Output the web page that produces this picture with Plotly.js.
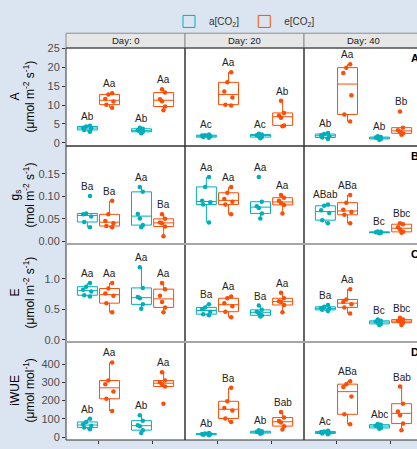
<!DOCTYPE html>
<html><head><meta charset="utf-8">
<script src="https://cdn.plot.ly/plotly-3.0.1.min.js"></script>
<style>html,body{margin:0;padding:0;overflow:hidden;background:#dbe5f1;} #chart{width:430px;height:470px;}</style>
</head><body><div id="chart"></div>
<script>
// Categories
const days = ['Day: 0', 'Day: 20', 'Day: 40'];
const water = ['WW', 'WD'];
const co2Names = ['a[CO<sub>2</sub>]', 'e[CO<sub>2</sub>]'];
const co2Colors = ['#00AFBB', '#FC4E07'];

// Each day: [WW a[CO2], WW e[CO2], WD a[CO2], WD e[CO2]]
const A_d0  = [[2.9,3.4,3.8,4.0,4.3,4.5],[9.3,10.1,10.9,11.6,12.8,13.1],[2.5,2.9,3.1,3.3,3.7,4.0],[8.6,9.6,11.0,11.5,13.3,14.2]];
const A_d20 = [[1.3,1.5,1.7,1.9,2.0,2.2],[9.9,10.1,12.0,13.6,16.0,18.7],[1.2,1.5,1.8,2.0,2.2,2.4],[4.4,4.6,6.6,7.2,7.9,11.1]];
const A_d40 = [[1.0,1.4,1.7,2.0,2.3,2.6],[5.6,7.5,12.6,18.5,19.9,20.8],[0.8,1.0,1.2,1.4,1.5,1.7],[2.1,2.5,3.0,3.3,4.0,8.3]];

const gs_d0  = [[0.031,0.043,0.055,0.060,0.062,0.101],[0.031,0.034,0.040,0.045,0.060,0.090],[0.031,0.036,0.051,0.061,0.110,0.121],[0.011,0.033,0.040,0.042,0.050,0.060]];
const gs_d20 = [[0.042,0.082,0.087,0.090,0.121,0.143],[0.060,0.082,0.088,0.094,0.108,0.121],[0.051,0.062,0.074,0.078,0.088,0.143],[0.062,0.081,0.085,0.090,0.097,0.103]];
const gs_d40 = [[0.040,0.047,0.063,0.069,0.079,0.082],[0.040,0.059,0.065,0.070,0.086,0.103],[0.018,0.019,0.020,0.020,0.021,0.022],[0.019,0.021,0.027,0.031,0.038,0.040]];

const E_d0  = [[0.71,0.73,0.79,0.82,0.87,0.93],[0.45,0.60,0.72,0.76,0.84,0.93],[0.51,0.58,0.68,0.70,0.85,1.19],[0.45,0.53,0.62,0.72,0.83,0.93]];
const E_d20 = [[0.40,0.42,0.46,0.50,0.53,0.58],[0.37,0.46,0.55,0.60,0.68,0.71],[0.38,0.40,0.44,0.46,0.49,0.56],[0.45,0.57,0.62,0.63,0.68,0.77]];
const E_d40 = [[0.47,0.49,0.51,0.52,0.54,0.57],[0.43,0.53,0.58,0.62,0.66,0.83],[0.24,0.26,0.28,0.30,0.31,0.33],[0.24,0.28,0.30,0.31,0.33,0.36]];

const iWUE_d0  = [[43,52,62,70,83,100],[143,210,250,290,310,409],[23,38,60,65,90,120],[183,277,290,300,310,355]];
const iWUE_d20 = [[10,13,15,17,19,22],[83,102,145,160,196,270],[18,22,26,29,32,38],[42,60,80,88,107,138]];
const iWUE_d40 = [[15,20,24,28,31,35],[70,125,223,275,290,306],[45,50,58,62,68,72],[38,74,120,140,183,277]];

// Significance letters, same order
const A_letters    = [['Ab','Aa','Ab','Aa'],['Ac','Aa','Ac','Ab'],['Ab','Aa','Ab','Bb']];
const gs_letters   = [['Ba','Ba','Aa','Ba'],['Aa','Aa','Aa','Aa'],['ABab','ABa','Bc','Bbc']];
const E_letters    = [['Aa','Aa','Aa','Aa'],['Ba','Aa','Ba','Aa'],['Ba','Aa','Bc','Bbc']];
const iWUE_letters = [['Ab','Aa','Ab','Aa'],['Ab','Ba','Ab','Bab'],['Ac','ABa','Abc','Bab']];

// Axis titles, ticks and panel tags
const yTitles = ['A<br>(μmol m<sup>-2</sup> s<sup>-1</sup>)', 'g<sub>s</sub><br>(mol m<sup>-2</sup> s<sup>-1</sup>)',
                 'E<br>(μmol m<sup>-2</sup> s<sup>-1</sup>)', 'iWUE<br>(μmol mol<sup>-1</sup>)'];
const yTicksA = [0, 5, 10, 15, 20, 25];
const yTicksGs = [0, 0.05, 0.10, 0.15];
const yTicksE = [0, 0.5, 1.0];
const yTicksWUE = [0, 100, 200, 300, 400];
const yTickSets = [yTicksA, yTicksGs, yTicksE, yTicksWUE];
const yRanges = [[-0.86, 25.1], [-0.006, 0.212], [-0.037, 1.57], [-16, 521]];
const yFormats = ['d', '.2f', '.1f', 'd'];
const panelTags = ['A', 'B', 'C', 'D'];

const rows = [
  {vals: [A_d0, A_d20, A_d40], letters: A_letters},
  {vals: [gs_d0, gs_d20, gs_d40], letters: gs_letters},
  {vals: [E_d0, E_d20, E_d40], letters: E_letters},
  {vals: [iWUE_d0, iWUE_d20, iWUE_d40], letters: iWUE_letters}
];

const FONT = 'Liberation Sans, Arial, sans-serif';
const W = 430, H = 470, ML = 66, MR = 7, MT = 42, MB = 30;
const plotH = H - MT - MB;
const GROUP_OFF = 0.205;

const traces = [];
const annotations = [];
const shapes = [];
const layout = {
  width: W, height: H,
  margin: {l: ML, r: MR, t: MT, b: MB, pad: 0},
  paper_bgcolor: '#dbe5f1', plot_bgcolor: '#ffffff',
  font: {family: FONT, color: '#333333'},
  boxmode: 'group', boxgap: 0.18, boxgroupgap: 0.1,
  showlegend: true,
  legend: {orientation: 'h', x: 0.5, xanchor: 'center', y: 1 + 27 / plotH, yanchor: 'middle',
           font: {size: 10, color: '#333333', family: FONT}, bgcolor: 'rgba(0,0,0,0)', itemwidth: 30},
  annotations: annotations, shapes: shapes
};

const colDomains = [[0, 1/3], [1/3, 2/3], [2/3, 1]];
const rowDomains = [[0.75, 1], [0.5, 0.75], [0.25, 0.5], [0, 0.25]];

days.forEach((d, c) => {
  const key = c === 0 ? 'xaxis' : 'xaxis' + (c + 1);
  layout[key] = {
    domain: colDomains[c], anchor: 'y4', type: 'category', categoryorder: 'array', categoryarray: water,
    range: [-0.6, 1.6], showgrid: false, zeroline: false, showline: false,
    ticks: 'outside', ticklen: 3, tickcolor: '#333333', tickfont: {size: 11, color: '#4d4d4d', family: FONT}
  };
  // strip
  shapes.push({type: 'rect', xref: 'paper', yref: 'paper', x0: colDomains[c][0], x1: colDomains[c][1],
               y0: 1, y1: 1 + 15 / plotH, fillcolor: '#e6e6e6', line: {color: '#8c8c8c', width: 1}, layer: 'above'});
  annotations.push({xref: 'paper', yref: 'paper', x: (colDomains[c][0] + colDomains[c][1]) / 2, y: 1 + 7.5 / plotH,
                    xanchor: 'center', yanchor: 'middle', text: d, showarrow: false,
                    font: {size: 9.5, color: '#1a1a1a', family: FONT}});
});

rows.forEach((row, r) => {
  const ykey = r === 0 ? 'yaxis' : 'yaxis' + (r + 1);
  layout[ykey] = {
    domain: rowDomains[r], anchor: 'x', range: yRanges[r], tickmode: 'array', tickvals: yTickSets[r], tickformat: yFormats[r],
    showgrid: false, zeroline: false, showline: false,
    ticks: 'outside', ticklen: 3, tickcolor: '#333333', tickfont: {size: 11, color: '#4d4d4d', family: FONT}
  };
  // y title
  annotations.push({xref: 'paper', yref: 'paper', x: 0, xshift: -43.5, xanchor: 'center',
                    y: (rowDomains[r][0] + rowDomains[r][1]) / 2, yanchor: 'middle', textangle: -90,
                    text: yTitles[r], showarrow: false, font: {size: 12, color: '#000000', family: FONT}});
  // panel tag
  annotations.push({xref: 'paper', yref: 'paper', x: 1, xanchor: 'right', xshift: -2,
                    y: rowDomains[r][1], yanchor: 'top', yshift: -2,
                    text: '<b>' + panelTags[r] + '</b>', showarrow: false, font: {size: 11, color: '#000000', family: FONT}});

  days.forEach((d, c) => {
    const xa = c === 0 ? 'x' : 'x' + (c + 1);
    const ya = r === 0 ? 'y' : 'y' + (r + 1);
    // panel border
    shapes.push({type: 'rect', xref: 'paper', yref: 'paper', x0: colDomains[c][0], x1: colDomains[c][1],
                 y0: rowDomains[r][0], y1: rowDomains[r][1], line: {color: '#333333', width: 1},
                 fillcolor: 'rgba(0,0,0,0)', layer: 'above'});
    [0, 1].forEach(k => {
      const xs = [], ys = [];
      [0, 1].forEach(w => {
        const v = row.vals[c][w * 2 + k];
        v.forEach(val => { xs.push(water[w]); ys.push(val); });
        annotations.push({xref: xa, yref: ya, x: w + (k === 0 ? -GROUP_OFF : GROUP_OFF), y: Math.max(...v),
                          yanchor: 'bottom', yshift: 2, xanchor: 'center', text: row.letters[c][w * 2 + k],
                          showarrow: false, font: {size: 10, color: '#222222', family: FONT}});
      });
      traces.push({
        type: 'box', x: xs, y: ys, xaxis: xa, yaxis: ya, name: co2Names[k], legendgroup: 'co2' + k,
        offsetgroup: 'co2' + k, alignmentgroup: 'all',
        showlegend: r === 0 && c === 0, boxpoints: 'all', jitter: 0.5, pointpos: 0,
        marker: {color: co2Colors[k], size: 4.5}, line: {color: co2Colors[k], width: 1},
        fillcolor: 'rgba(255,255,255,0)', whiskerwidth: 0, quartilemethod: 'inclusive', hoverinfo: 'skip'
      });
    });
  });
});

// grey separators between lower rows
[0.5, 0.25].forEach(yv => {
  shapes.push({type: 'line', xref: 'paper', yref: 'paper', x0: 0, x1: 1, y0: yv, y1: yv,
               line: {color: '#a6a6a6', width: 2}, layer: 'above'});
});

Plotly.newPlot('chart', traces, layout, {displayModeBar: false, staticPlot: true});
</script>
</body></html>
